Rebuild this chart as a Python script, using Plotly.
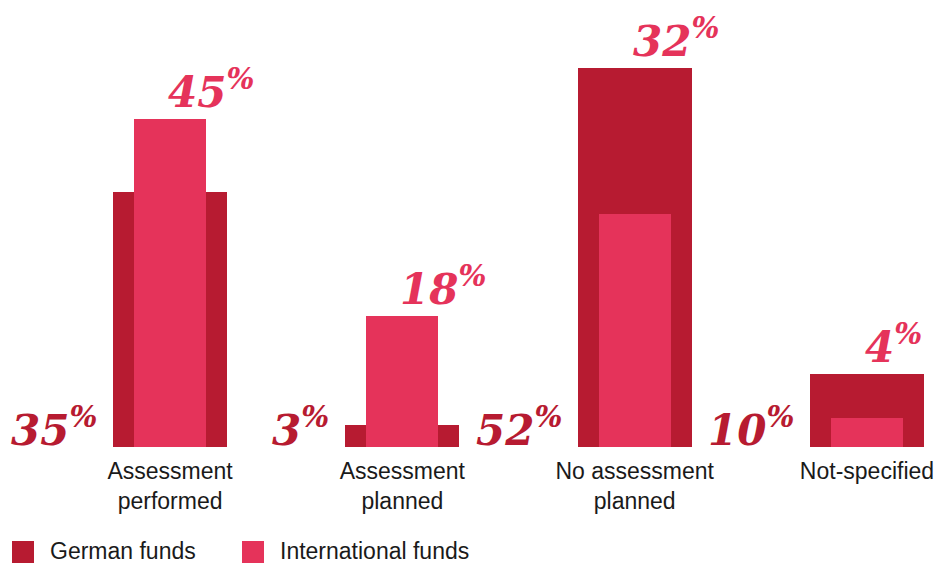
import plotly.graph_objects as go

# Survey answers, share of funds in percent
categories = ["Assessment<br>performed", "Assessment<br>planned",
              "No assessment<br>planned", "Not-specified"]
german_funds = [35, 3, 52, 10]
international_funds = [45, 18, 32, 4]
series_names = ["German funds", "International funds"]

DARK_RED = "#B71B31"
PINK = "#E5335A"
W, H = 939, 563
MARGIN_B = 116
PLOT_H = H - MARGIN_B

X_RANGE = [-0.732, 3.31]
px_per_cat = W / (X_RANGE[1] - X_RANGE[0])
WIDE, NARROW = 0.491, 0.31
LABEL_FONT = "Liberation Sans, Arial"

fig = go.Figure()
fig.add_trace(go.Bar(x=categories, y=german_funds, name=series_names[0],
                     marker=dict(color=DARK_RED, line=dict(width=0)),
                     width=WIDE, hoverinfo="skip"))
fig.add_trace(go.Bar(x=categories, y=international_funds, name=series_names[1],
                     marker=dict(color=PINK, line=dict(width=0)),
                     width=NARROW, hoverinfo="skip"))

value_font = dict(family="DejaVu Serif", size=42, weight="bold", style="italic")

def pct(v):
    return f"{v}<sup>%</sup>"

for cat, g, i in zip(categories, german_funds, international_funds):
    # German share: bottom-left of the wide bar
    fig.add_annotation(x=cat, y=0, xref="x", yref="y", text=pct(g),
                       showarrow=False, xanchor="right", yanchor="bottom",
                       xshift=-(WIDE * px_per_cat / 2 + 14), yshift=-10,
                       font=dict(color=DARK_RED, **value_font))
    # International share: above the taller of the two bars
    fig.add_annotation(x=cat, y=max(g, i), xref="x", yref="y", text=pct(i),
                       showarrow=False, xanchor="left", yanchor="bottom",
                       xshift=-4, yshift=0,
                       font=dict(color=PINK, **value_font))

# Legend drawn as swatches with captions along the bottom edge
legend_items = [(series_names[0], DARK_RED, 12), (series_names[1], PINK, 242)]
for name, color, x0 in legend_items:
    fig.add_shape(type="rect", xref="paper", yref="paper",
                  x0=x0 / W, x1=(x0 + 22) / W,
                  y0=(PLOT_H - 563) / PLOT_H, y1=(PLOT_H - 541) / PLOT_H,
                  fillcolor=color, line=dict(width=0))
    fig.add_annotation(x=(x0 + 36) / W, y=(PLOT_H - 551) / PLOT_H,
                       xref="paper", yref="paper", text=name, showarrow=False,
                       xanchor="left", yanchor="middle",
                       font=dict(family=LABEL_FONT, size=23, color="#1a1a1a"))

fig.update_layout(
    width=W, height=H,
    margin=dict(l=0, r=0, t=0, b=MARGIN_B),
    barmode="overlay",
    bargap=0,
    showlegend=False,
    plot_bgcolor="white", paper_bgcolor="white",
    xaxis=dict(type="category", range=X_RANGE, showgrid=False, zeroline=False,
               showline=False, ticks="", fixedrange=True, ticklabelstandoff=8,
               tickfont=dict(family=LABEL_FONT, size=23, color="#1a1a1a")),
    yaxis=dict(range=[0, PLOT_H / 7.29], visible=False, fixedrange=True),
)

fig.write_html("out.html", config={"displayModeBar": False})
